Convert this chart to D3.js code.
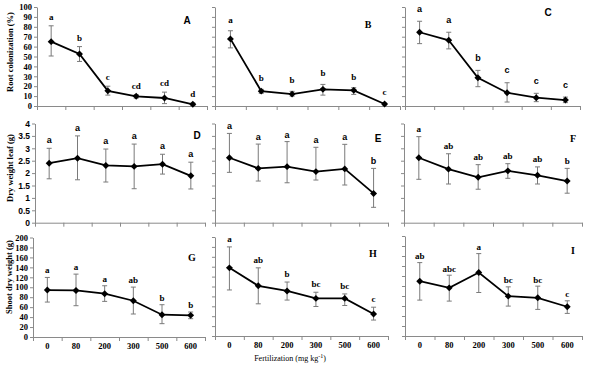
<!DOCTYPE html>
<html lang="en">
  <head>
    <meta charset="UTF-8" />
    <title>Fertilization panels</title>
    <script src="https://d3js.org/d3.v7.min.js"></script>
    <style>
      body { margin: 0; background: #fff; }
    </style>
  </head>
  <body>
    <svg width="589" height="365" id="chart"></svg>

    <script>
      // Fertilization doses (x categories)
      const doses = ["0", "80", "200", "300", "500", "600"];

      // Root colonization (%)
      const meanA = [65, 52.5, 15.3, 9.8, 8.1, 1.7];
      const hiA = [81, 60, 20, 11.5, 14, 3];
      const loA = [50.5, 45, 11, 8, 2.4, 0.5];
      const sigA = ["a", "b", "c", "cd", "cd", "d"];

      const meanB = [67.8, 15, 12, 16.8, 15.8, 2];
      const hiB = [76, 16.8, 14.8, 21.8, 18.5, 3];
      const loB = [58.7, 12.8, 10, 11, 11.7, 1];
      const sigB = ["a", "b", "b", "b", "b", "c"];

      const meanC = [74.5, 66.4, 28.5, 13.4, 8.4, 6];
      const hiC = [85.6, 74.5, 36, 23.5, 12.8, 9];
      const loC = [63, 57.7, 19.5, 4, 4.4, 3.4];
      const sigC = ["a", "a", "b", "c", "c", "c"];

      // Dry weight leaf (g)
      const meanD = [2.4, 2.6, 2.31, 2.27, 2.36, 1.89];
      const hiD = [3.0, 3.5, 2.97, 3.17, 2.76, 2.44];
      const loD = [1.77, 1.73, 1.64, 1.37, 1.96, 1.36];
      const sigD = ["a", "a", "a", "a", "a", "a"];

      const meanE = [2.62, 2.19, 2.26, 2.06, 2.17, 1.18];
      const hiE = [3.6, 3.17, 3.27, 3.04, 3.16, 2.19];
      const loE = [2.03, 1.68, 1.61, 1.72, 1.52, 0.62];
      const sigE = ["a", "a", "a", "a", "a", "b"];

      const meanF = [2.62, 2.16, 1.83, 2.09, 1.91, 1.68];
      const hiF = [3.47, 2.78, 2.34, 2.38, 2.25, 2.19];
      const loF = [1.75, 1.56, 1.35, 1.79, 1.56, 1.19];
      const sigF = ["a", "ab", "ab", "ab", "ab", "b"];

      // Shoot dry weight (g)
      const meanG = [94.3, 93.6, 87, 72.9, 44.8, 43.5];
      const hiG = [119.7, 126.4, 103, 100.3, 64.9, 50.2];
      const loG = [70.2, 62.9, 71.6, 46.2, 26.8, 36.8];
      const sigG = ["a", "a", "a", "ab", "b", "b"];

      const meanH = [137.7, 101.4, 91, 76, 76, 44.5];
      const hiH = [180, 137.7, 109, 88.4, 85, 58.2];
      const loH = [93, 65, 72.6, 59.6, 61.6, 32.2];
      const sigH = ["a", "ab", "b", "bc", "bc", "c"];

      const meanI = [109.6, 96.3, 126.9, 79.7, 76.4, 58.5];
      const hiI = [146.8, 121.6, 164.8, 98.3, 99.7, 70.4];
      const loI = [71.8, 69.8, 87, 59.8, 53.2, 45.2];
      const sigI = ["ab", "abc", "a", "bc", "bc", "c"];

      const yTitles = ["Root colonization (%)", "Dry weight leaf (g)", "Shoot dry weight (g)"];

      const serif = "'Liberation Serif', 'Times New Roman', serif";
      const sans = "'Liberation Sans', Arial, sans-serif";

      const svg = d3.select("#chart");

      // layout of each panel
      const panels = [
        { id: "A", mean: meanA, hi: hiA, lo: loA, sig: sigA, x0: 37, x1: 207, top: 7, bot: 106, max: 100, step: 10,
          labels: true, tickFont: serif, sigFont: serif, idFont: sans, idX: 187, idY: 20, gap: 9 },
        { id: "B", mean: meanB, hi: hiB, lo: loB, sig: sigB, x0: 215, x1: 400, top: 7, bot: 106, max: 100, step: 10,
          sigFont: serif, idFont: serif, idX: 368, idY: 24, gap: 11 },
        { id: "C", mean: meanC, hi: hiC, lo: loC, sig: sigC, x0: 405, x1: 580, top: 7, bot: 106, max: 100, step: 10,
          sigFont: sans, idFont: sans, idX: 548, idY: 12, gap: 12.5 },
        { id: "D", mean: meanD, hi: hiD, lo: loD, sig: sigD, x0: 35, x1: 205, top: 123.5, bot: 222.7, max: 4, step: 0.5,
          labels: true, tickFont: sans, sigFont: sans, idFont: sans, idX: 197, idY: 135, gap: 8 },
        { id: "E", mean: meanE, hi: hiE, lo: loE, sig: sigE, x0: 215, x1: 388, top: 123.5, bot: 222.7, max: 4, step: 0.5,
          sigFont: sans, idFont: sans, idX: 378, idY: 138, gap: 7 },
        { id: "F", mean: meanF, hi: hiF, lo: loF, sig: sigF, x0: 404, x1: 582, top: 123.5, bot: 222.7, max: 4, step: 0.5,
          sigFont: serif, idFont: serif, idX: 573, idY: 138, gap: 7.5 },
        { id: "G", mean: meanG, hi: hiG, lo: loG, sig: sigG, x0: 33, x1: 205, top: 237.5, bot: 337, max: 200, step: 20,
          labels: true, xlabels: true, tickFont: serif, sigFont: serif, idFont: serif, idX: 192, idY: 257, gap: 7 },
        { id: "H", mean: meanH, hi: hiH, lo: loH, sig: sigH, x0: 215, x1: 388, top: 237, bot: 336, max: 200, step: 20,
          xlabels: true, sigFont: serif, idFont: serif, idX: 373, idY: 253, gap: 8 },
        { id: "I", mean: meanI, hi: hiI, lo: loI, sig: sigI, x0: 405, x1: 582, top: 236, bot: 336, max: 200, step: 20,
          xlabels: true, sigFont: serif, idFont: serif, idX: 573, idY: 250, gap: 6.5 }
      ];

      const axisColor = "#8a8a8a";

      panels.forEach((p) => {
        const g = svg.append("g");
        const x = d3.scaleBand().domain(doses).range([p.x0, p.x1]);
        const xEdge = d3.scaleLinear().domain([0, doses.length]).range([p.x0, p.x1]);
        const y = d3.scaleLinear().domain([0, p.max]).range([p.bot, p.top]);
        const cx = (i) => x(doses[i]) + x.bandwidth() / 2;

        // y axis
        const yAxis = d3.axisLeft(y)
          .tickValues(d3.range(0, p.max + p.step / 2, p.step))
          .tickSize(3)
          .tickSizeOuter(0)
          .tickPadding(2)
          .tickFormat(p.labels ? (d) => +d.toFixed(1) : "");
        const ya = g.append("g").attr("transform", `translate(${p.x0},0)`).call(yAxis);
        ya.selectAll("path, line").attr("stroke", axisColor);
        ya.selectAll("text")
          .attr("fill", "#000")
          .style("font-family", p.tickFont || serif)
          .style("font-weight", "bold")
          .style("font-size", "8.5px");

        // x axis with ticks at category edges
        const xa = g.append("g").attr("transform", `translate(0,${p.bot})`)
          .call(d3.axisBottom(xEdge).tickValues(d3.range(doses.length + 1)).tickSize(4).tickSizeOuter(0).tickFormat(""));
        xa.selectAll("path, line").attr("stroke", axisColor);

        if (p.xlabels) {
          const xl = g.append("g").attr("transform", `translate(0,${p.bot})`)
            .call(d3.axisBottom(x).tickSize(0).tickPadding(6));
          xl.select(".domain").remove();
          xl.selectAll("text")
            .attr("fill", "#000")
            .style("font-family", serif)
            .style("font-weight", "bold")
            .style("font-size", "8.5px");
        }

        const idx = d3.range(doses.length);

        // error bars
        const eb = g.append("g").attr("stroke", "#7a7a7a").attr("stroke-width", 1);
        eb.selectAll(".v").data(idx).join("line")
          .attr("x1", cx).attr("x2", cx)
          .attr("y1", (i) => y(p.hi[i])).attr("y2", (i) => y(p.lo[i]));
        ["hi", "lo"].forEach((k) => {
          eb.selectAll(".c" + k).data(idx).join("line")
            .attr("x1", (i) => cx(i) - 2.5).attr("x2", (i) => cx(i) + 2.5)
            .attr("y1", (i) => y(p[k][i])).attr("y2", (i) => y(p[k][i]));
        });

        // mean line
        const line = d3.line().x((i) => cx(i)).y((i) => y(p.mean[i]));
        g.append("path")
          .datum(idx)
          .attr("d", line)
          .attr("fill", "none")
          .attr("stroke", "#000")
          .attr("stroke-width", 1.8);

        // diamond markers
        g.selectAll(".m").data(idx).join("path")
          .attr("d", d3.symbol().type(d3.symbolSquare).size(24))
          .attr("transform", (i) => `translate(${cx(i)},${y(p.mean[i])}) rotate(45)`)
          .attr("fill", "#000");

        // significance letters
        g.selectAll(".s").data(idx).join("text")
          .attr("x", cx)
          .attr("y", (i) => y(p.hi[i]) - p.gap)
          .attr("text-anchor", "middle")
          .attr("dominant-baseline", "central")
          .style("font-family", p.sigFont)
          .style("font-weight", "bold")
          .style("font-size", "9px")
          .text((i) => p.sig[i]);

        // panel letter
        g.append("text")
          .attr("x", p.idX)
          .attr("y", p.idY)
          .attr("text-anchor", "middle")
          .attr("dominant-baseline", "central")
          .style("font-family", p.idFont)
          .style("font-weight", "bold")
          .style("font-size", "10px")
          .text(p.id);
      });

      // y axis titles
      const titleY = [52, 168, 277];
      const titleX = [10, 10, 9];
      yTitles.forEach((t, r) => {
        svg.append("text")
          .attr("transform", `translate(${titleX[r]},${titleY[r]}) rotate(-90)`)
          .attr("text-anchor", "middle")
          .attr("dominant-baseline", "central")
          .style("font-family", serif)
          .style("font-weight", "bold")
          .style("font-size", "8.5px")
          .text(t);
      });

      // x axis title
      const xt = svg.append("text")
        .attr("x", 290)
        .attr("y", 361)
        .attr("text-anchor", "middle")
        .style("font-family", serif)
        .style("font-size", "8px");
      xt.append("tspan").text("Fertilization (mg kg");
      xt.append("tspan").attr("dy", -3).style("font-size", "6px").text("-1");
      xt.append("tspan").attr("dy", 3).text(")");
    </script>
  </body>
</html>
